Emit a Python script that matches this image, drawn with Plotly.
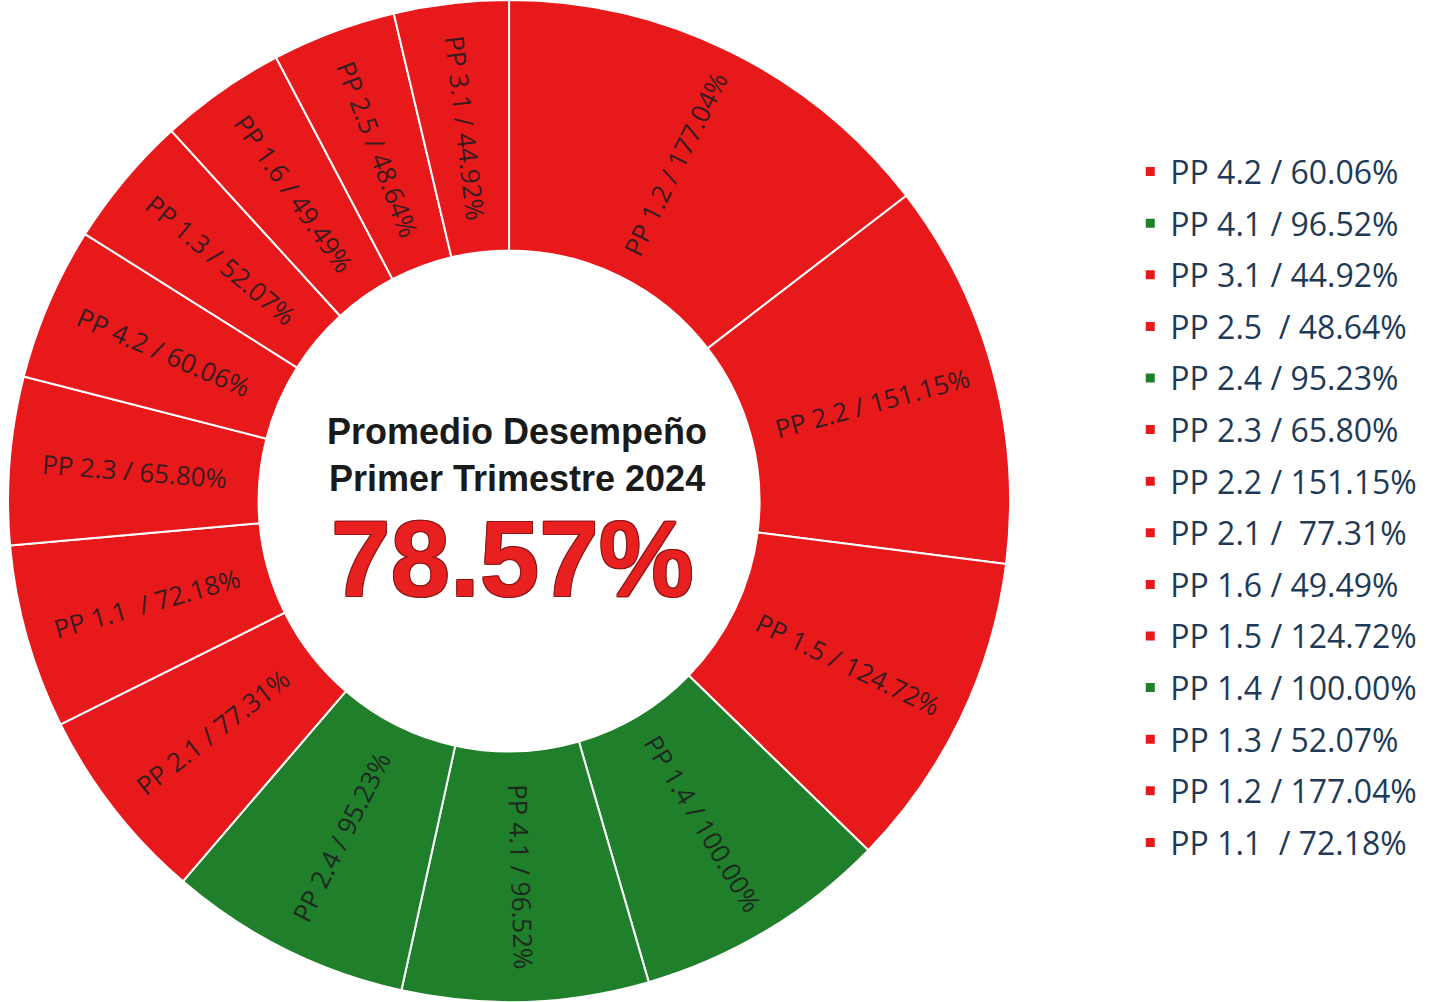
import math
import plotly.graph_objects as go

# Programas presupuestarios y su desempeño del primer trimestre 2024 (%)
codes = ["PP 1.1", "PP 1.2", "PP 1.3", "PP 1.4", "PP 1.5", "PP 1.6",
         "PP 2.1", "PP 2.2", "PP 2.3", "PP 2.4", "PP 2.5",
         "PP 3.1", "PP 4.1", "PP 4.2"]
values = [72.18, 177.04, 52.07, 100.00, 124.72, 49.49,
          77.31, 151.15, 65.80, 95.23, 48.64,
          44.92, 96.52, 60.06]
slice_text = ["PP 1.1\u00a0 / 72.18%", "PP 1.2 / 177.04%", "PP 1.3 / 52.07%",
              "PP 1.4 / 100.00%", "PP 1.5 / 124.72%", "PP 1.6 / 49.49%",
              "PP 2.1 / 77.31%", "PP 2.2 / 151.15%", "PP 2.3 / 65.80%",
              "PP 2.4 / 95.23%", "PP 2.5 / 48.64%", "PP 3.1 / 44.92%",
              "PP 4.1 / 96.52%", "PP 4.2 / 60.06%"]
legend_text = ["PP 1.1\u00a0 / 72.18%", "PP 1.2 / 177.04%", "PP 1.3 / 52.07%",
               "PP 1.4 / 100.00%", "PP 1.5 / 124.72%", "PP 1.6 / 49.49%",
               "PP 2.1 /\u00a0 77.31%", "PP 2.2 / 151.15%", "PP 2.3 / 65.80%",
               "PP 2.4 / 95.23%", "PP 2.5\u00a0 / 48.64%", "PP 3.1 / 44.92%",
               "PP 4.1 / 96.52%", "PP 4.2 / 60.06%"]
center_title = ["Promedio Desempeño", "Primer Trimestre 2024"]
average = 78.57

RED = "#E8191B"
GREEN = "#1F7F2A"
LABEL_FONT = "Open Sans, sans-serif"

W, H = 1438, 1002
DOMAIN_X = [0.0, 0.708]
HOLE = 0.5


def status_color(v):
    # dentro de la meta (95% a 100%) en verde, fuera de ella en rojo
    return GREEN if 95 <= v <= 100 else RED


colors = [status_color(v) for v in values]

fig = go.Figure()

fig.add_trace(go.Pie(
    labels=codes,
    values=values,
    text=slice_text,
    textinfo="none",
    hoverinfo="label+value",
    sort=True,
    direction="clockwise",
    rotation=0,
    hole=HOLE,
    marker=dict(colors=colors, line=dict(color="#FFFFFF", width=2)),
    showlegend=False,
    domain=dict(x=DOMAIN_X, y=[0.0, 1.0]),
))

# Etiquetas radiales de cada sector, en el centro del anillo
cx = (DOMAIN_X[0] + DOMAIN_X[1]) / 2 * W
cy = H / 2
radius = min((DOMAIN_X[1] - DOMAIN_X[0]) * W, H) / 2
r_lab = radius * (1 + HOLE) / 2
total = sum(values)
order_by_value = sorted(range(len(values)), key=lambda i: values[i], reverse=True)
start = 0.0
for i in order_by_value:
    sweep = values[i] / total * 360
    mid = start + sweep / 2
    start += sweep
    rad = math.radians(mid)
    px = cx + r_lab * math.sin(rad)
    py = cy - r_lab * math.cos(rad)
    angle = mid - 90 if mid < 180 else mid - 270
    fig.add_annotation(
        x=px / W, y=1 - py / H, xref="paper", yref="paper",
        text=slice_text[i], showarrow=False, textangle=angle,
        xanchor="center", yanchor="middle",
        font=dict(family=LABEL_FONT, size=26, color="rgba(30,28,32,0.9)"),
    )

# Leyenda en orden descendente de código
order = sorted(range(len(codes)), key=lambda i: codes[i], reverse=True)
for i in order:
    fig.add_trace(go.Scatter(
        x=[None], y=[None], mode="markers", name=legend_text[i],
        marker=dict(symbol="square", size=9, color=colors[i]),
        legendgroup=codes[i], showlegend=True, hoverinfo="skip",
    ))

fig.add_annotation(
    x=cx / W, y=0.5, xref="paper", yref="paper",
    text="<b>" + center_title[0] + "<br>" + center_title[1] + "</b>",
    showarrow=False, xanchor="center", yanchor="middle", yshift=46, xshift=8,
    font=dict(family="Liberation Sans, Arial, sans-serif", size=36, color="#1A1A1A"),
)
fig.add_annotation(
    x=cx / W, y=0.5, xref="paper", yref="paper",
    text="<b>%.2f%%</b>" % average,
    showarrow=False, xanchor="center", yanchor="middle", yshift=-58, xshift=3,
    font=dict(family="Liberation Sans, Arial, sans-serif", size=107, color="#E8201F",
              shadow="1px 1px 0 #8A1616, -1px -1px 0 #8A1616, 1px -1px 0 #8A1616, -1px 1px 0 #8A1616"),
)

fig.update_layout(
    width=W, height=H,
    margin=dict(l=0, r=0, t=0, b=0),
    paper_bgcolor="#FFFFFF", plot_bgcolor="#FFFFFF",
    xaxis=dict(visible=False), yaxis=dict(visible=False),
    legend=dict(
        x=0.786, y=0.856, xanchor="left", yanchor="top",
        font=dict(family=LABEL_FONT, size=32, color="#1F3A56"),
        tracegroupgap=7, itemwidth=30, bgcolor="rgba(0,0,0,0)",
    ),
)

fig.write_html("out.html")
